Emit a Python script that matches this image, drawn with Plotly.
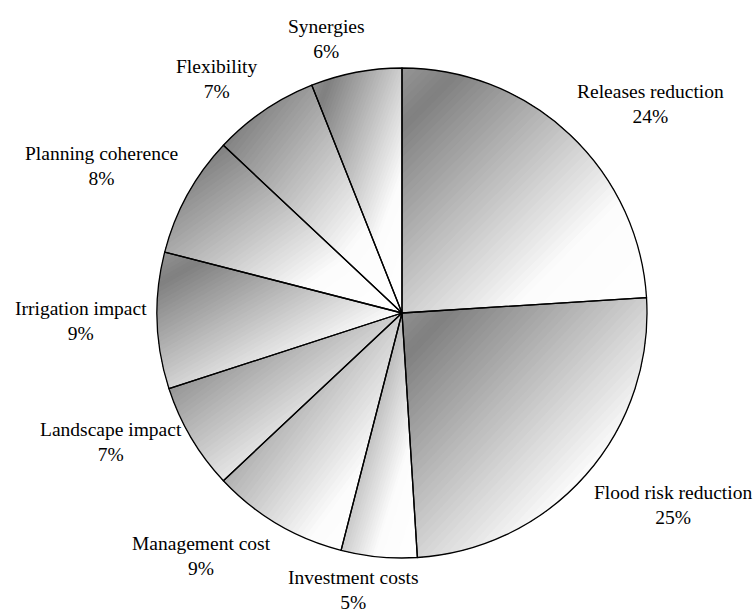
import numpy as np
import plotly.graph_objects as go

# Criteria weights (%), listed clockwise from 12 o'clock
labels = ["Releases reduction", "Flood risk reduction", "Investment costs",
          "Management cost", "Landscape impact", "Irrigation impact",
          "Planning coherence", "Flexibility", "Synergies"]
shares = [24, 25, 5, 9, 7, 9, 8, 7, 6]

W, H = 755, 613
CX, CY, R = 402, 313, 245          # pie centre / radius in pixels
LABEL_GAP = 8
N_BANDS = 60
FONT_SIZE = 19.5
FONT_FAMILY = "Liberation Serif"

total = float(sum(shares))
edges = np.concatenate([[0.0], np.cumsum(shares)]) / total * 360.0


def wedge(a0, a1):
    n = max(int((a1 - a0) / 0.75) + 2, 3)
    t = np.radians(np.linspace(a0, a1, n))
    pts = [(CX, CY)]
    pts += list(zip(CX + R * np.sin(t), CY - R * np.cos(t)))
    return pts


def clip(poly, f, c):
    """Keep the part of a convex polygon where f(p) >= c."""
    out = []
    n = len(poly)
    for i in range(n):
        p, q = poly[i], poly[(i + 1) % n]
        fp, fq = f(p) - c, f(q) - c
        if fp >= 0:
            out.append(p)
        if (fp >= 0) != (fq >= 0):
            s = fp / (fp - fq)
            out.append((p[0] + s * (q[0] - p[0]), p[1] + s * (q[1] - p[1])))
    return out


# grey -> white diagonal shading inside each slice's bounding box
stops = [(0.0, 150), (0.12, 128), (0.72, 252), (1.0, 255)]


def grey(t):
    xs = [s[0] for s in stops]
    vs = [s[1] for s in stops]
    v = int(round(np.interp(t, xs, vs)))
    return f"rgb({v},{v},{v})"


wedges = [wedge(edges[i], edges[i + 1]) for i in range(len(shares))]
bboxes = []
for w in wedges:
    xs = [p[0] for p in w]
    ys = [p[1] for p in w]
    bboxes.append((min(xs), max(xs), min(ys), max(ys)))

fig = go.Figure()

for k in range(N_BANDS):
    t0 = k / N_BANDS
    bx, by = [], []
    for w, (x0, x1, y0, y1) in zip(wedges, bboxes):
        f = lambda p, x0=x0, x1=x1, y0=y0, y1=y1: 0.5 * ((p[0] - x0) / (x1 - x0) + (p[1] - y0) / (y1 - y0))
        part = clip(w, f, t0)
        if len(part) < 3:
            continue
        bx += [p[0] for p in part] + [part[0][0], None]
        by += [p[1] for p in part] + [part[0][1], None]
    fig.add_trace(go.Scatter(
        x=bx, y=by, mode="lines", fill="toself",
        fillcolor=grey(t0 + 0.5 / N_BANDS), line=dict(width=0),
        hoverinfo="skip", showlegend=False))

# slice outlines
fig.add_trace(go.Pie(
    labels=labels, values=shares, sort=False, direction="clockwise",
    rotation=0, textinfo="none",
    marker=dict(colors=["rgba(0,0,0,0)"] * len(shares),
                line=dict(color="black", width=1.3)),
    domain=dict(x=[(CX - R) / W, (CX + R) / W],
                y=[(H - CY - R) / H, (H - CY + R) / H]),
    hoverinfo="label+percent", showlegend=False))

# outside labels: box edge touches a point just outside the slice's mid-angle
for i, (lab, v) in enumerate(zip(labels, shares)):
    mid = np.radians((edges[i] + edges[i + 1]) / 2)
    s, c = np.sin(mid), np.cos(mid)
    L = R + LABEL_GAP
    px, py = CX + L * s, CY - L * c
    xshift = 0
    if s > 0.25:
        xa = "left"
    elif s < -0.25:
        xa = "right"
    else:
        xa = "center"
        est_w = 0.42 * FONT_SIZE * max(len(lab), 4)
        xshift = 0.5 * est_w * (s / 0.25)
    ya = "bottom" if c > 0.25 else ("top" if c < -0.55 else "middle")
    pct = int(round(v / total * 100))
    fig.add_annotation(
        x=px, y=py, xref="x", yref="y", text=f"{lab}<br>{pct}%",
        showarrow=False, xanchor=xa, yanchor=ya, xshift=xshift,
        align="center",
        font=dict(family=FONT_FAMILY, size=FONT_SIZE, color="black"))

fig.update_xaxes(range=[0, W], visible=False, fixedrange=True)
fig.update_yaxes(range=[H, 0], visible=False, fixedrange=True)
fig.update_layout(
    width=W, height=H, margin=dict(l=0, r=0, t=0, b=0),
    paper_bgcolor="white", plot_bgcolor="white", showlegend=False,
    font=dict(family=FONT_FAMILY))

fig.write_html("out.html")
